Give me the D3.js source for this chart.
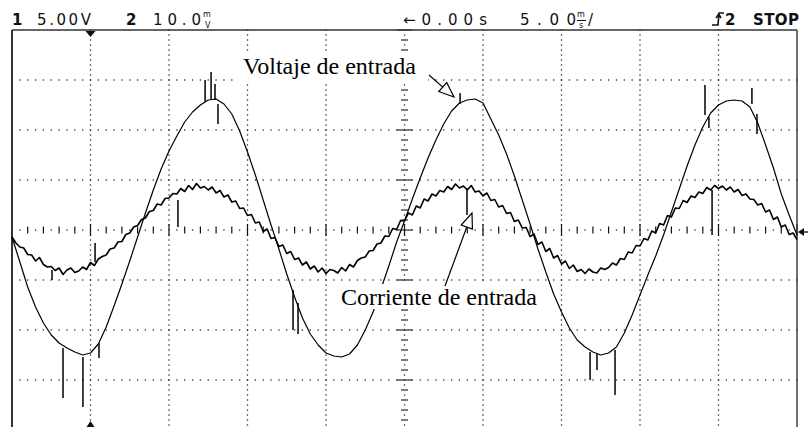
<!DOCTYPE html>
<html>
<head>
<meta charset="utf-8">
<script src="https://cdn.jsdelivr.net/npm/d3@7"></script>
<style>
  html, body { margin: 0; padding: 0; background: #fff; }
  svg { display: block; }
</style>
</head>
<body>
<svg id="scope" width="808" height="427"></svg>
<script>
// Acquisition: 5 ms/div, 10 divisions, trigger at the centre (0 s)
const timeStart = -25;          // ms
const voltageStep = 0.5;        // ms between channel-1 samples
const currentStep = 0.25;       // ms between channel-2 samples

// Channel 1 – input voltage (V), 5.00 V/div
const voltage = [
  -0.7, -3.2, -5.7, -7.7, -9.3, -10.5, -11.3, -11.8, -12.2, -12.5,
  -12.3, -11.4, -9.7, -7.6, -5.4, -3.1, -0.7, 1.7, 4.0, 6.1,
  7.9, 9.4, 10.8, 11.8, 12.5, 13.0, 13.1, 12.6, 11.6, 9.9,
  7.8, 5.5, 3.0, 0.5, -1.9, -4.4, -6.7, -8.8, -10.4, -11.5,
  -12.3, -12.6, -12.7, -12.4, -11.5, -10.0, -8.2, -5.9, -3.6, -1.2,
  0.9, 3.1, 5.2, 7.2, 9.0, 10.6, 11.9, 12.7, 13.0, 13.1,
  12.7, 11.1, 9.5, 7.6, 5.4, 3.0, 0.6, -1.9, -4.2, -6.4,
  -8.2, -9.8, -11.0, -11.7, -12.2, -12.5, -12.3, -11.7, -10.3, -8.5,
  -6.5, -4.5, -2.6, -0.5, 1.8, 4.1, 6.4, 8.5, 10.3, 11.7,
  12.5, 12.9, 13.0, 12.9, 12.3, 10.7, 8.5, 6.2, 3.6, 1.5,
  -0.5
];

// Channel 2 – input current, 10.0 m/div
const current = [
  -1.4, -2.6, -3.4, -3.6, -4.9, -5.0, -6.2, -5.5, -6.9, -7.4,
  -7.3, -8.1, -7.6, -8.9, -8.0, -7.6, -8.5, -8.2, -7.4, -7.9,
  -6.5, -7.1, -5.8, -5.3, -5.0, -3.8, -3.6, -2.4, -2.3, -0.9,
  -0.6, 0.6, 0.9, 2.1, 2.4, 3.7, 3.9, 5.2, 5.0, 6.3,
  6.4, 7.3, 7.2, 8.3, 7.7, 8.9, 8.1, 9.3, 8.4, 8.7,
  8.0, 8.6, 7.4, 7.9, 6.6, 7.0, 5.6, 5.8, 4.3, 4.4,
  2.9, 3.1, 1.4, 1.6, -0.3, 0.2, -1.7, -1.5, -3.3, -3.0,
  -4.7, -4.3, -5.9, -5.6, -7.0, -6.4, -7.8, -7.2, -8.4, -7.6,
  -8.7, -7.9, -8.1, -8.6, -7.5, -8.2, -6.9, -7.4, -6.1, -5.6,
  -5.4, -4.2, -4.1, -2.8, -2.6, -1.2, -1.3, 0.3, 0.1, 1.9,
  1.8, 3.4, 3.0, 4.8, 4.4, 6.2, 5.8, 7.2, 6.8, 7.9,
  7.6, 8.7, 8.1, 9.2, 8.4, 8.8, 8.0, 8.9, 7.6, 7.8,
  6.8, 7.4, 5.9, 6.1, 4.6, 4.9, 3.3, 3.5, 1.7, 2.0,
  0.4, 0.5, -1.3, -0.8, -2.9, -2.4, -4.3, -3.7, -5.6, -5.1,
  -6.8, -6.2, -7.7, -7.0, -8.3, -7.9, -8.7, -7.8, -8.4, -8.6,
  -7.6, -7.9, -7.5, -6.6, -7.0, -5.7, -5.9, -4.4, -4.6, -3.1,
  -3.2, -1.7, -2.0, -0.2, -0.6, 1.3, 1.0, 2.9, 2.6, 4.4,
  4.3, 5.9, 5.5, 6.8, 6.5, 7.6, 7.3, 8.5, 8.0, 8.9,
  8.3, 8.8, 8.0, 8.6, 7.6, 8.1, 6.9, 7.2, 6.2, 6.1,
  5.0, 5.3, 3.6, 4.0, 2.1, 2.6, 0.6, 1.0, -0.9, -0.6,
  -1.9
];

// Switching glitches: [time ms, from, to]
const voltageSpikes = [
  [-21.75, -11.8, -16.8], [-20.48, -12.7, -17.7], [-19.46, -11.3, -12.8],
  [-12.70, 12.8, 15.0], [-12.32, 13.0, 15.8], [-12.07, 13.0, 14.6], [-11.88, 12.6, 10.6],
  [-7.10, -6.0, -10.0], [-6.78, -7.3, -10.4],
  [3.54, 12.6, 13.7],
  [11.82, -12.2, -15.0], [12.26, -12.4, -14.0], [13.41, -12.0, -16.5],
  [19.14, 11.5, 14.5], [19.39, 11.3, 10.2], [22.13, 12.6, 14.2], [22.45, 11.6, 9.6]
];
const currentSpikes = [
  [-22.45, -8.0, -10.0], [-19.71, -2.6, -6.4], [-14.43, 6.0, 0.6],
  [3.98, 8.4, 3.0], [19.59, 8.0, -1.0]
];

// Status line
const ch1Scale = "5.00V";
const ch2Scale = "10.0";
const timeRef = "\u21900.00s";
const timeScale = "5.00";

const svg = d3.select("#scope");
const x = d3.scaleLinear().domain([-25, 25]).range([12, 797]);
const yV = d3.scaleLinear().domain([-20, 20]).range([430, 30]);
const yI = d3.scaleLinear().domain([-40, 40]).range([430, 30]);
const ink = "#111";

// ---- graticule ----
const grid = svg.append("g");
const dot = (cx, cy) => grid.append("rect")
  .attr("x", cx - 0.65).attr("y", cy - 0.65)
  .attr("width", 1.3).attr("height", 1.3).attr("fill", "#222");

d3.range(-20, 21, 5).filter(t => t !== 0).forEach(t => {
  d3.range(-20, 20.01, 0.5).forEach(v => dot(x(t), yV(v)));
});
d3.range(-15, 16, 5).filter(v => v !== 0).forEach(v => {
  d3.range(-25, 25.01, 0.5).forEach(t => dot(x(t), yV(v)));
});

// centre horizontal axis with minor ticks
d3.range(-25, 25.01, 0.5).forEach(t => {
  const k = Math.round(t * 2);
  if (k % 2 !== 0) { dot(x(t), yV(0)); return; }
  const major = Math.abs(t % 5) < 1e-6;
  const h = major ? 6 : 3.5;
  grid.append("line")
    .attr("x1", x(t)).attr("x2", x(t))
    .attr("y1", yV(0) - h).attr("y2", yV(0) + h)
    .attr("stroke", ink).attr("stroke-width", 1.2);
});
// centre vertical axis with minor ticks
d3.range(-20, 20.01, 0.5).forEach(v => {
  const k = Math.round(v * 2);
  if (k % 2 !== 0) { dot(x(0), yV(v)); return; }
  const major = Math.abs(v % 5) < 1e-6;
  const w = major ? 7.5 : 3.5;
  grid.append("line")
    .attr("x1", x(0) - w).attr("x2", x(0) + w)
    .attr("y1", yV(v)).attr("y2", yV(v))
    .attr("stroke", ink).attr("stroke-width", 1.1);
});

// frame
grid.append("line").attr("x1", x(-25)).attr("x2", x(25))
  .attr("y1", yV(20)).attr("y2", yV(20)).attr("stroke", "#333").attr("stroke-width", 1.4);
grid.append("line").attr("x1", x(-25)).attr("x2", x(-25))
  .attr("y1", yV(20)).attr("y2", 427).attr("stroke", "#333").attr("stroke-width", 2);
grid.append("line").attr("x1", x(25)).attr("x2", x(25))
  .attr("y1", yV(20)).attr("y2", 427).attr("stroke", "#333").attr("stroke-width", 1.4);

// trigger position markers (top and bottom) and ground reference arrow
const tx = x(-20);
svg.append("path").attr("d", `M${tx - 5},${yV(20) + 1} L${tx + 5},${yV(20) + 1} L${tx},${yV(20) + 7} Z`).attr("fill", ink);
svg.append("path").attr("d", `M${tx - 4},427 L${tx + 4},427 L${tx},421 Z`).attr("fill", ink);
svg.append("path").attr("d", `M${x(25) + 1},${yV(-0.2)} L${x(25) + 7},${yV(-0.2) - 4} L${x(25) + 7},${yV(-0.2) + 4} Z`).attr("fill", ink);
svg.append("line").attr("x1", x(25) + 6).attr("x2", 808)
  .attr("y1", yV(-0.2)).attr("y2", yV(-0.2)).attr("stroke", ink).attr("stroke-width", 1.3);

// ---- traces ----
const vLine = d3.line().x((d, i) => x(timeStart + i * voltageStep)).y(d => yV(d));
const iLine = d3.line().x((d, i) => x(timeStart + i * currentStep)).y(d => yI(d));

svg.append("path").datum(current).attr("d", iLine)
  .attr("fill", "none").attr("stroke", "#000").attr("stroke-width", 1.6).attr("stroke-linejoin", "round");
svg.append("path").datum(voltage).attr("d", vLine)
  .attr("fill", "none").attr("stroke", "#000").attr("stroke-width", 1.2).attr("stroke-linejoin", "round");

svg.append("g").selectAll("line").data(voltageSpikes).join("line")
  .attr("x1", d => x(d[0])).attr("x2", d => x(d[0]))
  .attr("y1", d => yV(d[1])).attr("y2", d => yV(d[2]))
  .attr("stroke", "#000").attr("stroke-width", 1.5);
svg.append("g").selectAll("line").data(currentSpikes).join("line")
  .attr("x1", d => x(d[0])).attr("x2", d => x(d[0]))
  .attr("y1", d => yI(d[1])).attr("y2", d => yI(d[2]))
  .attr("stroke", "#000").attr("stroke-width", 1.5);

// ---- annotations ----
const notes = svg.append("g");
notes.append("rect").attr("x", 238).attr("y", 52).attr("width", 190).attr("height", 30).attr("fill", "#fff");
notes.append("rect").attr("x", 336).attr("y", 284).attr("width", 206).attr("height", 25).attr("fill", "#fff");
notes.append("text").attr("x", 243).attr("y", 74)
  .attr("font-family", "'Liberation Serif', 'Times New Roman', serif").attr("font-size", 24)
  .attr("fill", "#000").text("Voltaje de entrada");
notes.append("text").attr("x", 341).attr("y", 305)
  .attr("font-family", "'Liberation Serif', 'Times New Roman', serif").attr("font-size", 24)
  .attr("fill", "#000").text("Corriente de entrada");

function arrow(x0, y0, x1, y1) {
  const dx = x1 - x0, dy = y1 - y0, L = Math.hypot(dx, dy);
  const ux = dx / L, uy = dy / L, hl = 15, hw = 6;
  const bx = x1 - ux * hl, by = y1 - uy * hl;
  notes.append("line").attr("x1", x0).attr("y1", y0).attr("x2", bx).attr("y2", by)
    .attr("stroke", "#000").attr("stroke-width", 1.2);
  notes.append("path")
    .attr("d", `M${x1},${y1} L${bx - uy * hw},${by + ux * hw} L${bx + uy * hw},${by - ux * hw} Z`)
    .attr("fill", "#fff").attr("stroke", "#000").attr("stroke-width", 1.2);
}
arrow(429, 75, 454, 97);
arrow(445, 286, 472, 213);

// ---- status line ----
const hdr = svg.append("g").attr("font-family", "'DejaVu Sans', sans-serif").attr("fill", ink);
hdr.append("text").attr("x", 12).attr("y", 25).attr("font-size", 15).attr("font-weight", "bold").text("1");
hdr.append("text").attr("x", 37).attr("y", 25).attr("font-size", 15)
  .attr("textLength", 54).attr("lengthAdjust", "spacing").text(ch1Scale);
hdr.append("text").attr("x", 126).attr("y", 25).attr("font-size", 15).attr("font-weight", "bold").text("2");
hdr.append("text").attr("x", 153).attr("y", 25).attr("font-size", 15)
  .attr("textLength", 48).attr("lengthAdjust", "spacing").text(ch2Scale);
hdr.append("text").attr("x", 203).attr("y", 17).attr("font-size", 8).text("m");
hdr.append("text").attr("x", 205).attr("y", 28).attr("font-size", 8).text("V");
hdr.append("text").attr("x", 403).attr("y", 25).attr("font-size", 15)
  .attr("textLength", 84).attr("lengthAdjust", "spacing").text(timeRef);
hdr.append("text").attr("x", 520).attr("y", 25).attr("font-size", 15)
  .attr("textLength", 56).attr("lengthAdjust", "spacing").text(timeScale);
hdr.append("text").attr("x", 577).attr("y", 17).attr("font-size", 8).text("m");
hdr.append("line").attr("x1", 577).attr("x2", 586).attr("y1", 20.5).attr("y2", 20.5).attr("stroke", ink);
hdr.append("text").attr("x", 579).attr("y", 28).attr("font-size", 8).text("s");
hdr.append("text").attr("x", 588).attr("y", 25).attr("font-size", 15).text("/");
// rising-edge trigger symbol
hdr.append("path").attr("d", "M712,25 L718,25 L719,13 L724,13 M716,18 L718.7,14 L721,18")
  .attr("fill", "none").attr("stroke", ink).attr("stroke-width", 1.6);
hdr.append("text").attr("x", 725).attr("y", 25).attr("font-size", 15).attr("font-weight", "bold").text("2");
hdr.append("text").attr("x", 753).attr("y", 25).attr("font-size", 15).attr("font-weight", "bold")
  .attr("textLength", 46).attr("lengthAdjust", "spacing").text("STOP");
</script>
</body>
</html>
